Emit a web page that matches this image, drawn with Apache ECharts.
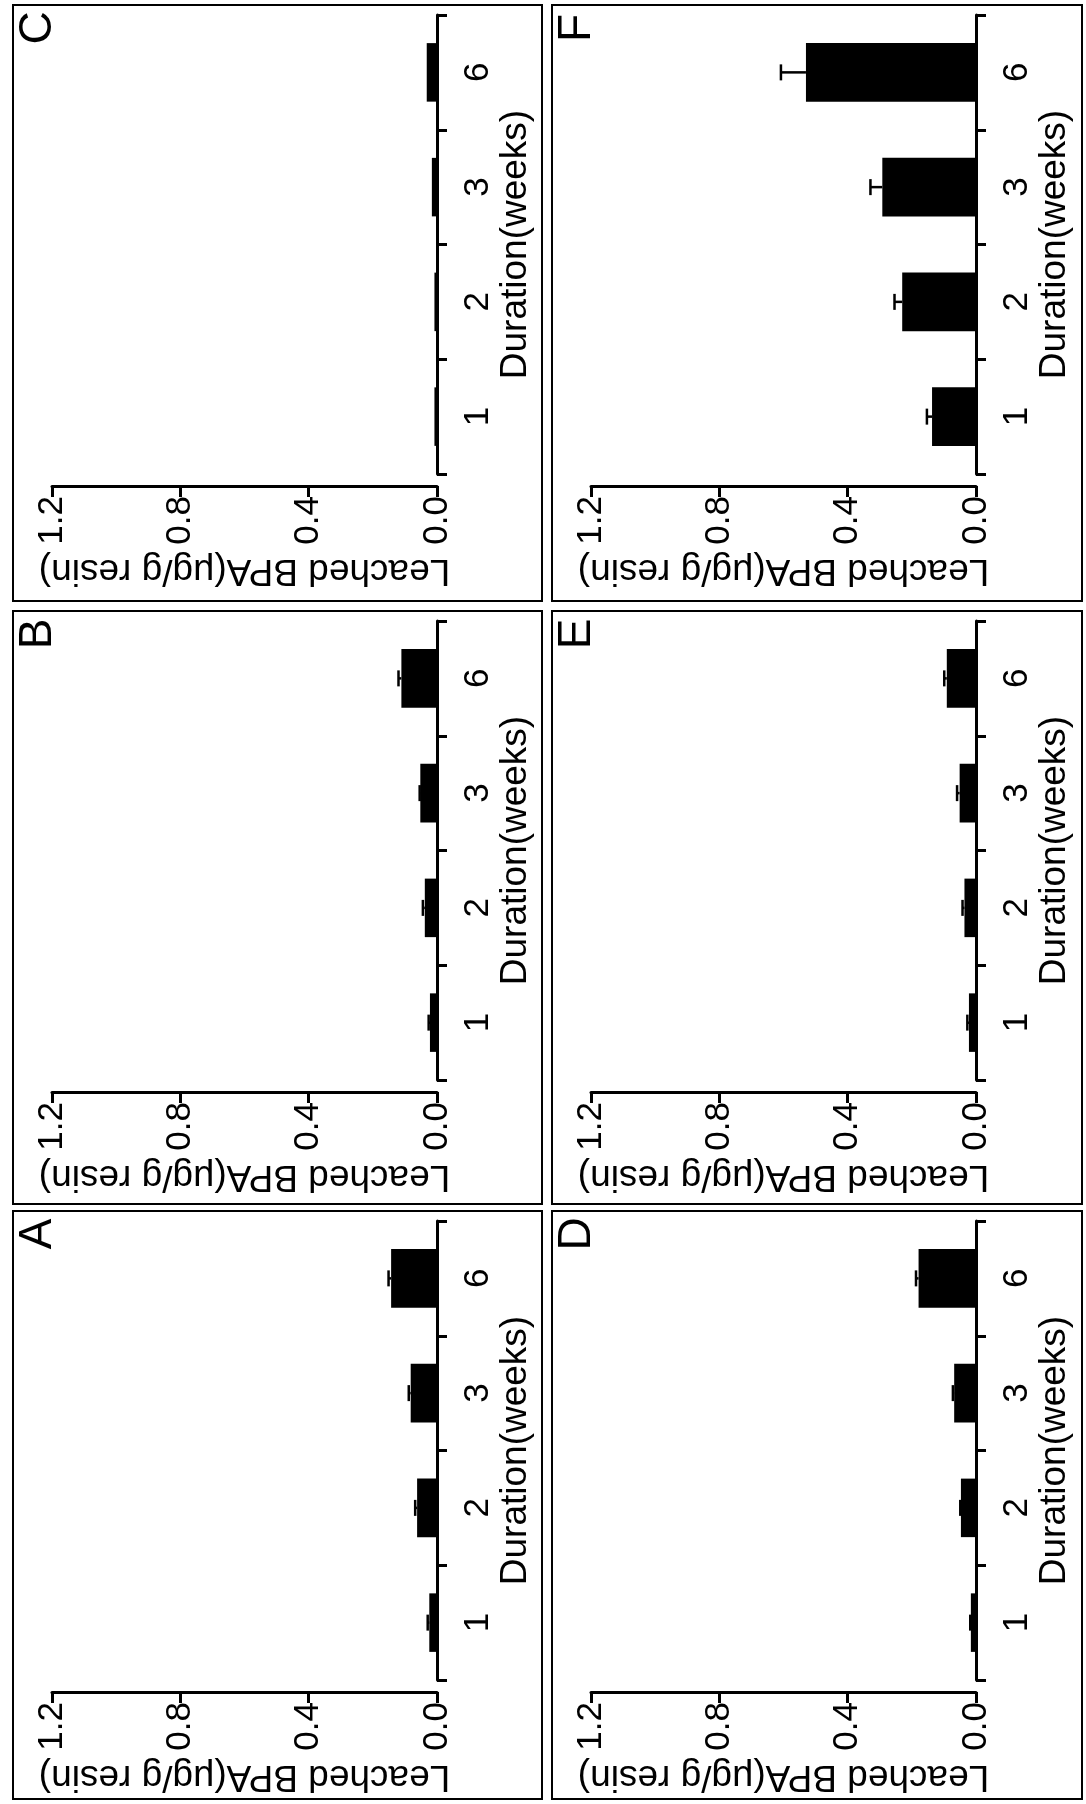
<!DOCTYPE html>
<html>
<head>
<meta charset="utf-8">
<script src="https://cdn.jsdelivr.net/npm/echarts@6/dist/echarts.min.js"></script>
<style>
html,body{margin:0;padding:0;background:#fff;}
#chart{width:1086px;height:1804px;}
</style>
</head>
<body>
<div id="chart"></div>
<script>
// ---- data ----
const categories = ['1', '2', '3', '6'];
const valueTicks = [0.0, 0.4, 0.8, 1.2];
const xTitle = 'Duration(weeks)';
const yTitle = 'Leached BPA(\u03bcg/g resin)';

const meanA = [0.024, 0.062, 0.082, 0.143];
const errA  = [0.005, 0.006, 0.006, 0.008];
const meanB = [0.022, 0.038, 0.052, 0.111];
const errB  = [0.004, 0.006, 0.002, 0.009];
const meanC = [0.008, 0.008, 0.016, 0.032];
const errC  = [0, 0, 0, 0];
const meanD = [0.016, 0.047, 0.068, 0.179];
const errD  = [0.002, 0.002, 0.004, 0.008];
const meanE = [0.022, 0.036, 0.051, 0.091];
const errE  = [0.005, 0.006, 0.008, 0.008];
const meanF = [0.137, 0.230, 0.292, 0.530];
const errF  = [0.016, 0.024, 0.037, 0.078];

// panel letter, column, row, means, errors
const panels = [
  ['C', 0, 0, meanC, errC],
  ['F', 1, 0, meanF, errF],
  ['B', 0, 1, meanB, errB],
  ['E', 1, 1, meanE, errE],
  ['A', 0, 2, meanA, errA],
  ['D', 1, 2, meanD, errD]
];

// ---- layout ----
const colL = [13, 552], colW = [529, 530];
const rowT = [5, 611, 1211], rowH = [596, 593, 588];
const FONT = 'Liberation Sans, Arial, Helvetica, sans-serif';

const grids = [], xAxes = [], yAxes = [], series = [], graphics = [];

panels.forEach((p, k) => {
  const [letter, c, r, means, errs] = p;
  const L = colL[c], T = rowT[r];
  grids.push({left: L + 39, top: T + 10, width: 385, height: 459});
  xAxes.push({
    type: 'value', gridIndex: k, min: 0, max: 1.2, interval: 0.4, inverse: true,
    position: 'bottom', offset: 12,
    axisLine: {show: true, onZero: false, lineStyle: {color: '#000', width: 3}},
    axisTick: {show: true, length: 11, lineStyle: {color: '#000', width: 3}},
    axisLabel: {rotate: 90, margin: 10, color: '#000', fontSize: 35, fontFamily: FONT,
      formatter: v => valueTicks.indexOf(Math.round(v * 10) / 10) >= 0 ? v.toFixed(1) : ''},
    splitLine: {show: false},
    name: yTitle, nameLocation: 'middle', nameRotate: 180, nameGap: 66,
    nameTextStyle: {color: '#000', fontSize: 37, fontFamily: FONT}
  });
  yAxes.push({
    type: 'category', gridIndex: k, data: categories, position: 'right', offset: 12,
    axisLine: {show: true, lineStyle: {color: '#000', width: 3}},
    axisTick: {show: true, alignWithLabel: false, length: 10, lineStyle: {color: '#000', width: 3}},
    axisLabel: {rotate: 90, margin: 12, color: '#000', fontSize: 35, fontFamily: FONT},
    name: xTitle, nameLocation: 'middle', nameRotate: 90, nameGap: 46,
    nameTextStyle: {color: '#000', fontSize: 37, fontFamily: FONT}
  });
  series.push({
    type: 'bar', xAxisIndex: k, yAxisIndex: k, data: means, barWidth: '51%',
    itemStyle: {color: '#000'}, silent: true
  });
  series.push({
    type: 'custom', xAxisIndex: k, yAxisIndex: k, silent: true,
    data: means.map((m, i) => [i, m, errs[i]]),
    encode: {y: 0, x: 1},
    renderItem: (params, api) => {
      const i = api.value(0), m = api.value(1), e = api.value(2);
      if (!(e > 0)) return null;
      const p0 = api.coord([m, i]);
      const p1 = api.coord([m + e, i]);
      const h = 8;
      return {type: 'group', children: [
        {type: 'line', shape: {x1: p0[0], y1: p0[1], x2: p1[0], y2: p1[1]}, style: {stroke: '#000', lineWidth: 2.5}},
        {type: 'line', shape: {x1: p1[0], y1: p1[1] - h, x2: p1[0], y2: p1[1] + h}, style: {stroke: '#000', lineWidth: 2.5}}
      ]};
    }
  });
  graphics.push({
    type: 'rect', shape: {x: L, y: T, width: colW[c], height: rowH[r]},
    style: {fill: 'none', stroke: '#000', lineWidth: 2}, silent: true
  });
  graphics.push({
    type: 'text', x: L + 25, y: T + 23, rotation: Math.PI / 2,
    style: {text: letter, fill: '#000', fontSize: 46, fontFamily: FONT, align: 'center', verticalAlign: 'middle'},
    silent: true
  });
});

const chart = echarts.init(document.getElementById('chart'), null, {renderer: 'canvas'});
chart.setOption({
  animation: false,
  backgroundColor: '#fff',
  grid: grids,
  xAxis: xAxes,
  yAxis: yAxes,
  series: series,
  graphic: graphics
});
</script>
</body>
</html>
